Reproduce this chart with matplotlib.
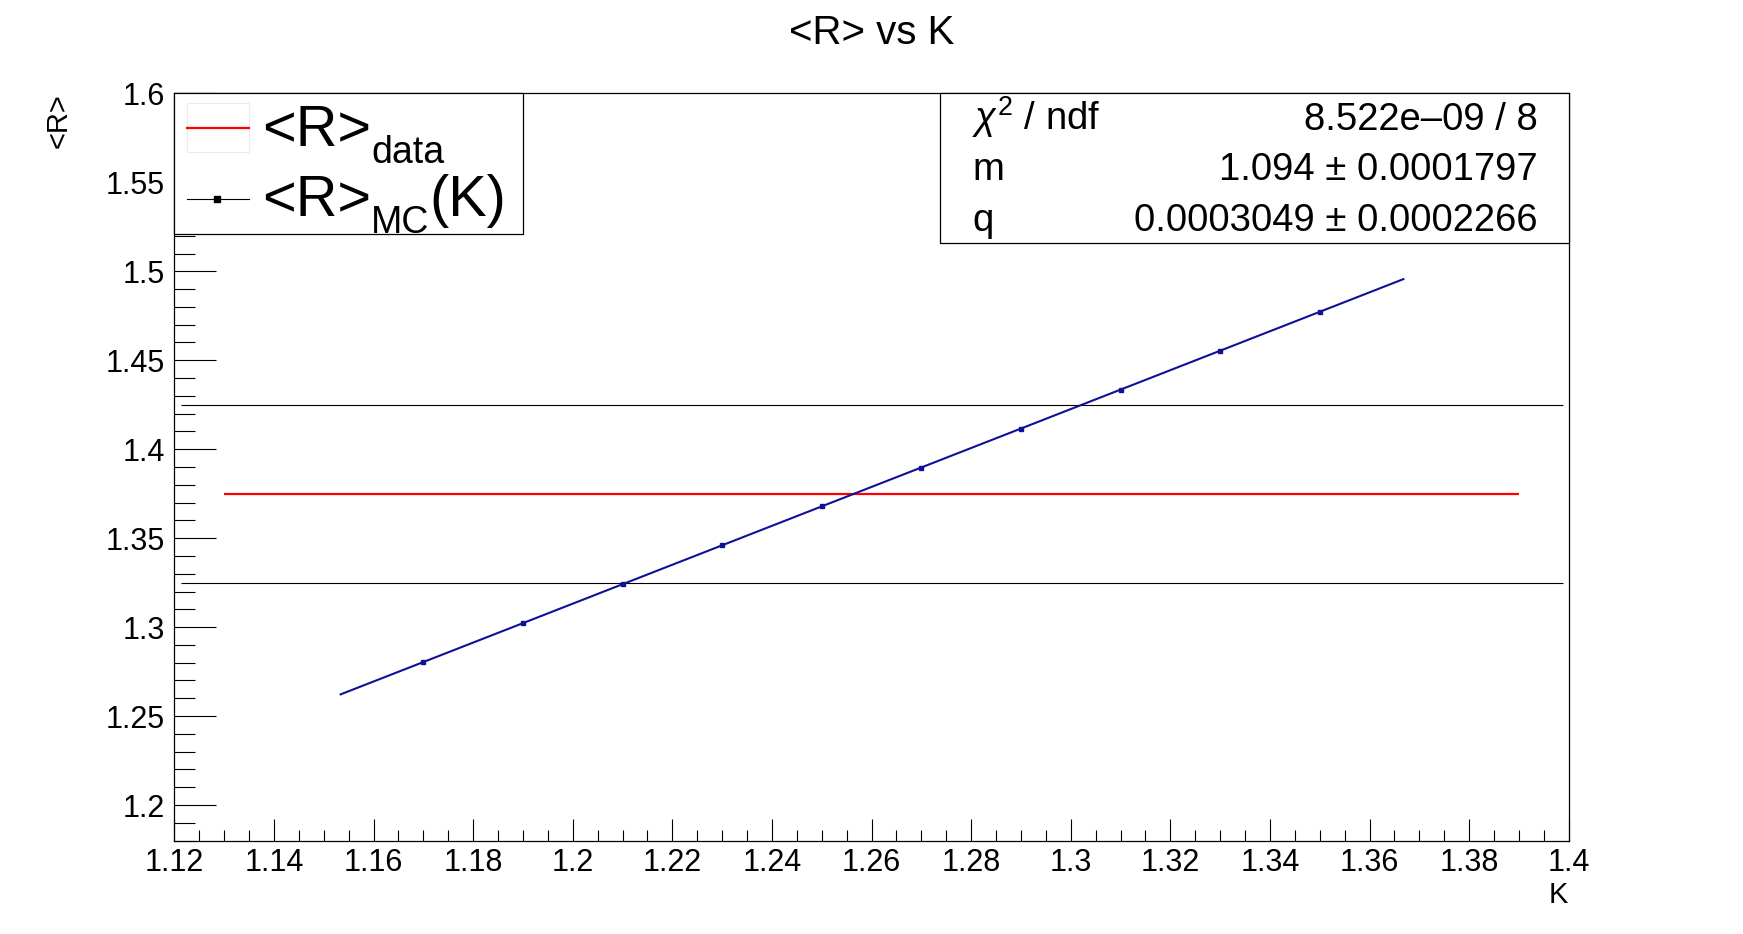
import matplotlib
matplotlib.use('Agg')
import matplotlib.pyplot as plt
from matplotlib.patches import Rectangle
from matplotlib.lines import Line2D
from matplotlib.ticker import MultipleLocator, FuncFormatter

plt.rcParams['font.family'] = ['Liberation Sans', 'DejaVu Sans']
plt.rcParams['mathtext.fontset'] = 'custom'
plt.rcParams['mathtext.rm'] = 'Liberation Sans'
plt.rcParams['mathtext.it'] = 'Liberation Sans:italic'
plt.rcParams['mathtext.bf'] = 'Liberation Sans:bold'

# MC points <R>(K)
k_mc = [1.17, 1.19, 1.21, 1.23, 1.25, 1.27, 1.29, 1.31, 1.33, 1.35]
r_mc = [1.2803, 1.3022, 1.3241, 1.3460, 1.3678, 1.3897, 1.4116, 1.4335, 1.4554, 1.4773]

# linear fit, drawn over the graph range
fit_k = [1.1534, 1.3668]
fit_r = [1.2622, 1.4956]

# measured <R> and its +-band
r_data = 1.375
r_data_k = [1.13, 1.39]
r_band = [1.325, 1.425]
band_k = [1.1214, 1.3988]

stat_names = [r'$\chi^{2}$ / ndf', 'm', 'q']
stat_values = ['8.522e\u201309 / 8', '1.094 \u00b1 0.0001797', '0.0003049 \u00b1 0.0002266']

W, H = 1743, 934
blue = '#101096'


def fx(x):
    return x / W


def fy(y):
    return 1 - y / H


fig = plt.figure(figsize=(W / 100, H / 100), dpi=100)
ax = fig.add_axes([0.1, 0.1, 0.8, 0.8])

# band and data lines
ax.hlines(r_band, band_k[0], band_k[1], color='black', lw=0.8)
ax.hlines(r_data, r_data_k[0], r_data_k[1], color='red', lw=1.6)

# fit and MC points
ax.plot(fit_k, fit_r, color=blue, lw=1.5)
ax.plot(k_mc, r_mc, 's', ms=3.5, color=blue)

ax.set_xlim(1.12, 1.4)
ax.set_ylim(1.18, 1.6)
ax.xaxis.set_major_locator(MultipleLocator(0.02))
ax.xaxis.set_minor_locator(MultipleLocator(0.005))
ax.yaxis.set_major_locator(MultipleLocator(0.05))
ax.yaxis.set_minor_locator(MultipleLocator(0.01))
fmt = FuncFormatter(lambda v, p: f'{v:g}')
ax.xaxis.set_major_formatter(fmt)
ax.yaxis.set_major_formatter(fmt)

ax.tick_params(axis='both', which='both', direction='in', top=False, right=False, width=0.8)
ax.tick_params(axis='x', which='major', length=15.8, pad=5.2, labelsize=22)
ax.tick_params(axis='x', which='minor', length=7.9)
ax.tick_params(axis='y', which='major', length=30.2, pad=7.0, labelsize=22)
ax.tick_params(axis='y', which='minor', length=15.1)
for s in ax.spines.values():
    s.set_linewidth(0.9)

# titles
fig.text(0.5, fy(44.5), '<R> vs K', ha='center', va='baseline', fontsize=29)
fig.text(fx(1568), fy(903), 'K', ha='right', va='baseline', fontsize=21)
fig.text(fx(59), fy(93), '<R>', ha='center', va='top', rotation=90, fontsize=21)

# legend box
fig.add_artist(Rectangle((0.1, fy(234)), fx(523) - 0.1, fy(93) - fy(234), transform=fig.transFigure,
                         facecolor='white', edgecolor='black', lw=0.9, zorder=1))
fig.add_artist(Rectangle((fx(187), fy(152)), fx(249) - fx(187), fy(103) - fy(152), transform=fig.transFigure,
                         facecolor='white', edgecolor='#ececec', lw=0.8, zorder=1.5))
fig.add_artist(Line2D([fx(187), fx(249)], [fy(127.7), fy(127.7)], color='red', lw=1.6, zorder=2))
fig.add_artist(Line2D([fx(187), fx(249)], [fy(198.7), fy(198.7)], color='black', lw=0.8, zorder=2))
fig.add_artist(Line2D([fx(217)], [fy(198.7)], marker='s', ms=5, color='black', zorder=2))

renderer = fig.canvas.get_renderer()


def legend_label(y, sub, tail=''):
    # main text, smaller lowered subscript, optional tail back at full size
    t = fig.text(fx(262), fy(y), '<R>', ha='left', va='baseline', fontsize=41.5, zorder=3)
    x1 = t.get_window_extent(renderer).x1
    s = fig.text(x1 / W, fy(y + 17), sub, ha='left', va='baseline', fontsize=27, zorder=3)
    if tail:
        x2 = s.get_window_extent(renderer).x1
        fig.text(x2 / W, fy(y), tail, ha='left', va='baseline', fontsize=41.5, zorder=3)


legend_label(146, 'data')
legend_label(216, 'MC', '(K)')

# fit statistics box
fig.add_artist(Rectangle((fx(940), fy(243)), 0.9 - fx(940), fy(93) - fy(243), transform=fig.transFigure,
                         facecolor='white', edgecolor='black', lw=0.9, zorder=1))
for i, (name, val) in enumerate(zip(stat_names, stat_values)):
    base = 130 + 50.5 * i
    fig.text(fx(972), fy(base), name, ha='left', va='baseline', fontsize=27.5, zorder=3)
    fig.text(fx(1538), fy(base), val, ha='right', va='baseline', fontsize=27.5, zorder=3)

fig.savefig('out.png', dpi=100)
